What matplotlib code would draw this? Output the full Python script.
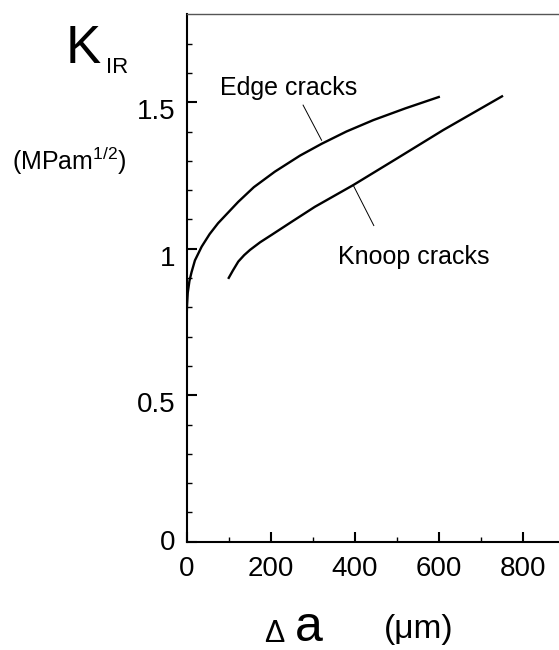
import numpy as np
import matplotlib
matplotlib.use("Agg")
from matplotlib import pyplot as plt
from matplotlib import transforms

plt.rcParams['font.family'] = ['Liberation Sans', 'DejaVu Sans']
plt.rcParams['mathtext.fontset'] = 'custom'
plt.rcParams['mathtext.rm'] = 'Liberation Sans'
plt.rcParams['mathtext.it'] = 'Liberation Sans'

# crack growth (um) vs crack-growth resistance K_IR (MPa m^1/2)
edge_a = [0, 0.3, 1, 3, 7, 12, 20, 36, 55, 75, 100, 123, 160, 210,
          270, 321, 380, 444, 520, 602]
edge_K = [0.70, 0.75, 0.80, 0.85, 0.89, 0.92, 0.96, 1.007, 1.05, 1.087, 1.125, 1.16, 1.21, 1.263,
          1.318, 1.358, 1.400, 1.439, 1.479, 1.519]

knoop_a = [99, 110, 123, 137, 151, 175, 202, 250, 305, 396, 500, 610, 752]
knoop_K = [0.897, 0.925, 0.956, 0.978, 0.996, 1.022, 1.047, 1.092, 1.143, 1.217, 1.308, 1.405, 1.522]

xticks = [0, 200, 400, 600, 800]
yticks = [0, 0.5, 1, 1.5]
ytick_labels = ['0', '0.5', '1', '1.5']

W, H = 559, 650
fig = plt.figure(figsize=(W / 100, H / 100), dpi=100)
ax = fig.add_axes([186.5 / W, 1 - 541.7 / H, 1 - 186.5 / W, (541.7 - 14.3) / H])

ax.plot(edge_a, edge_K, color='black', lw=1.7, solid_capstyle='butt', solid_joinstyle='round')
ax.plot(knoop_a, knoop_K, color='black', lw=1.7, solid_capstyle='butt', solid_joinstyle='round')

# leader lines for the curve names
ax.plot([277, 321], [1.49, 1.37], color='black', lw=0.7)
ax.plot([396, 445], [1.217, 1.079], color='black', lw=0.7)
ax.text(79, 1.525, 'Edge cracks', fontsize=18, ha='left', va='baseline')
ax.text(360, 0.948, 'Knoop cracks', fontsize=18, ha='left', va='baseline')

ax.set_xlim(0, 885)
ax.set_ylim(0, 1.8)
ax.set_xticks(xticks)
ax.set_xticks(np.arange(100, 900, 200), minor=True)
ax.set_yticks(yticks, labels=ytick_labels)
ax.set_yticks([v for v in np.arange(0.1, 1.8, 0.1) if abs(v * 2 - round(v * 2)) > 1e-6], minor=True)

ax.tick_params(which='major', direction='in', length=7.2, width=1.5, labelsize=20)
ax.tick_params(which='minor', direction='in', length=3.6, width=1.0)
ax.tick_params(axis='x', which='major', pad=10)
ax.tick_params(axis='y', which='major', pad=8)

for side in ['left', 'bottom']:
    ax.spines[side].set_linewidth(1.5)
ax.spines['top'].set_linewidth(1.0)
ax.spines['top'].set_color('#555555')
ax.spines['right'].set_visible(False)

# y labels sit below their ticks, except the zero
for lab, txt in zip(ax.get_yticklabels(), ytick_labels):
    dy = 2 if txt == '0' else -7
    lab.set_transform(lab.get_transform() + transforms.ScaledTranslation(0, dy / 100, fig.dpi_scale_trans))

# axis titles
fig.text(66 / W, 1 - 63.3 / H, 'K', fontsize=38, ha='left', va='baseline')
fig.text(106 / W, 1 - 72.7 / H, 'IR', fontsize=16, ha='left', va='baseline')
fig.text(12 / W, 1 - 170 / H, r'(MPam$^{1/2}$)', fontsize=18, ha='left', va='baseline')
fig.text(264 / W, 1 - 642 / H, 'Δ', fontsize=22, ha='left', va='baseline')
fig.text(295 / W, 1 - 641 / H, 'a', fontsize=36, ha='left', va='baseline')
fig.text(384 / W, 1 - 638 / H, '(μm)', fontsize=24, ha='left', va='baseline')

fig.savefig('out.png', dpi=100)
